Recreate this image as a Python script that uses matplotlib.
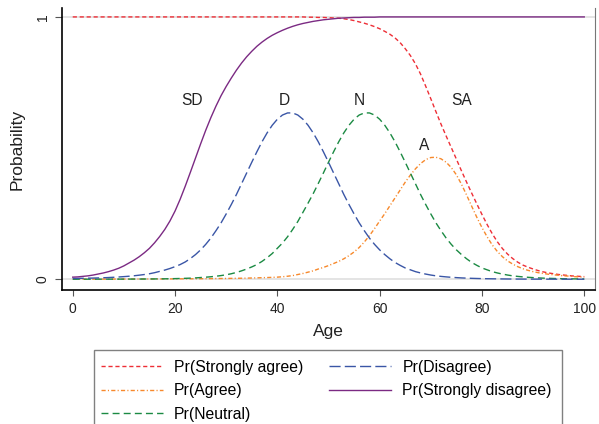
import numpy as np
import matplotlib
matplotlib.use('Agg')
import matplotlib.pyplot as plt
from matplotlib.patches import Rectangle

plt.rcParams['font.family'] = ['Liberation Sans', 'DejaVu Sans']

# Data: predicted probabilities for ages 0..100
ages = np.arange(0, 101)

pr_sd = [0.008, 0.009, 0.011, 0.013, 0.016, 0.02, 0.024, 0.029, 0.035, 0.042,
         0.051, 0.062, 0.073, 0.086, 0.101, 0.118, 0.139, 0.163, 0.19, 0.222,
         0.26, 0.305, 0.355, 0.408, 0.462, 0.516, 0.568, 0.616, 0.66, 0.70,
         0.735, 0.767, 0.797, 0.824, 0.848, 0.869, 0.888, 0.904, 0.918, 0.93,
         0.94, 0.949, 0.957, 0.964, 0.97, 0.975, 0.979, 0.983, 0.986, 0.989,
         0.991, 0.993, 0.995, 0.996, 0.997, 0.998, 0.998, 0.999, 0.999, 0.999] + [1.0] * 41

pr_d = [0.003, 0.0033, 0.0036, 0.004, 0.0045, 0.005, 0.0057, 0.0065, 0.0075, 0.0087,
        0.01, 0.0115, 0.0133, 0.0155, 0.018, 0.021, 0.025, 0.03, 0.035, 0.041,
        0.048, 0.056, 0.066, 0.079, 0.094, 0.112, 0.133, 0.157, 0.185, 0.215,
        0.249, 0.285, 0.323, 0.364, 0.405, 0.446, 0.486, 0.524, 0.558, 0.587,
        0.61, 0.626, 0.634, 0.634, 0.626, 0.61, 0.587, 0.558, 0.524, 0.486,
        0.446, 0.405, 0.364, 0.323, 0.285, 0.249, 0.215, 0.185, 0.157, 0.133,
        0.112, 0.094, 0.078, 0.064, 0.053, 0.043, 0.036, 0.029, 0.024, 0.0197,
        0.016, 0.013, 0.0108, 0.009, 0.0074, 0.0062, 0.0051, 0.0042, 0.0035, 0.0029,
        0.0024, 0.002, 0.0017, 0.0014, 0.0012, 0.001, 0.0008, 0.0007, 0.0006, 0.0005,
        0.0004, 0.0004, 0.0003, 0.0003, 0.0003, 0.0002, 0.0002, 0.0002, 0.0002, 0.0001, 0.0001]

pr_n = [0.0002, 0.0002, 0.0002, 0.0002, 0.0003, 0.0003, 0.0003, 0.0004, 0.0004, 0.0005,
        0.0005, 0.0006, 0.0007, 0.0008, 0.0009, 0.001, 0.0012, 0.0014, 0.0017, 0.002,
        0.0024, 0.0029, 0.0035, 0.0042, 0.0051, 0.0065, 0.0078, 0.0095, 0.0115, 0.014,
        0.017, 0.021, 0.026, 0.032, 0.039, 0.047, 0.056, 0.068, 0.082, 0.098,
        0.118, 0.138, 0.162, 0.19, 0.22, 0.255, 0.29, 0.326, 0.365, 0.405,
        0.446, 0.486, 0.524, 0.558, 0.587, 0.61, 0.626, 0.634, 0.634, 0.626,
        0.61, 0.587, 0.558, 0.524, 0.486, 0.446, 0.405, 0.364, 0.323, 0.285,
        0.249, 0.215, 0.185, 0.157, 0.133, 0.112, 0.094, 0.078, 0.064, 0.053,
        0.043, 0.036, 0.029, 0.024, 0.0197, 0.016, 0.013, 0.0108, 0.009, 0.0074,
        0.0062, 0.0051, 0.0042, 0.0035, 0.0029, 0.0024, 0.002, 0.0017, 0.0014, 0.0012, 0.001]

pr_a = [0.0003, 0.0003, 0.0003, 0.0004, 0.0004, 0.0005, 0.0005, 0.0006, 0.0006, 0.0007,
        0.0007, 0.0008, 0.0008, 0.0009, 0.001, 0.001, 0.0011, 0.0012, 0.0013, 0.0014,
        0.0015, 0.0016, 0.0017, 0.0018, 0.0019, 0.002, 0.0022, 0.0024, 0.0026, 0.0028,
        0.003, 0.0033, 0.0036, 0.0039, 0.0043, 0.0048, 0.0053, 0.0059, 0.0065, 0.0072,
        0.008, 0.0095, 0.0115, 0.014, 0.018, 0.022, 0.027, 0.032, 0.039, 0.045,
        0.052, 0.06, 0.068, 0.078, 0.09, 0.104, 0.121, 0.142, 0.166, 0.193,
        0.222, 0.25, 0.28, 0.31, 0.34, 0.37, 0.397, 0.421, 0.441, 0.456,
        0.464, 0.465, 0.459, 0.446, 0.426, 0.398, 0.362, 0.321, 0.278, 0.236,
        0.197, 0.162, 0.131, 0.106, 0.086, 0.07, 0.058, 0.048, 0.04, 0.034,
        0.029, 0.025, 0.022, 0.019, 0.017, 0.015, 0.013, 0.012, 0.01, 0.009, 0.008]

pr_sa = [1.0] * 46 + [
         0.999, 0.999, 0.998, 0.998,
         0.997, 0.996, 0.995, 0.993, 0.99, 0.986, 0.981, 0.976, 0.97, 0.963,
         0.955, 0.945, 0.934, 0.92, 0.902, 0.879, 0.853, 0.821, 0.782, 0.736,
         0.688, 0.639, 0.591, 0.546, 0.502, 0.458, 0.413, 0.37, 0.328, 0.287,
         0.247, 0.209, 0.174, 0.143, 0.117, 0.096, 0.079, 0.065, 0.054, 0.046,
         0.039, 0.033, 0.028, 0.024, 0.021, 0.018, 0.016, 0.014, 0.012, 0.011, 0.01]

curve_labels = ['SD', 'D', 'N', 'A', 'SA']
label_pos = [(23.3, 0.68), (41.3, 0.68), (56.1, 0.68), (68.7, 0.508), (76.1, 0.68)]

fig = plt.figure(figsize=(5.99, 4.24), dpi=100)
ax = fig.add_axes([62/599, 1 - 290/424, 533/599, 282/424])

ax.plot(ages, pr_sa, color='#ee2e36', lw=1.0, dashes=(3, 2), label='Pr(Strongly agree)')
ax.plot(ages, pr_a, color='#f7892c', lw=1.0, dashes=(3, 1.6, 0.8, 1.6), label='Pr(Agree)')
ax.plot(ages, pr_n, color='#1b8a43', lw=1.0, dashes=(5, 3), label='Pr(Neutral)')
ax.plot(ages, pr_d, color='#3a56a6', lw=1.0, dashes=(8, 3), label='Pr(Disagree)')
ax.plot(ages, pr_sd, color='#7b2a83', lw=1.0, label='Pr(Strongly disagree)')

for lab, (x, y) in zip(curve_labels, label_pos):
    ax.text(x, y, lab, fontsize=11.2, color='#222222', ha='center', va='center')

ax.set_xlim(-2.1, 102.1)
ax.set_ylim(-0.041, 1.034)
ax.set_xticks([0, 20, 40, 60, 80, 100])
ax.set_yticks([0, 1])
ax.set_yticklabels(['0', '1'], rotation=90, va='center')
ax.grid(axis='y', color='#e4e4e4', lw=1.4, zorder=0)
ax.set_axisbelow(True)

ax.spines['top'].set_visible(False)
ax.spines['right'].set_color('#777777')
ax.spines['left'].set_linewidth(1.2)
ax.spines['bottom'].set_linewidth(1.2)
ax.tick_params(axis='x', direction='out', length=4.3, width=0.8, color='#555555',
               labelsize=10, labelcolor='#222222', pad=4)
ax.tick_params(axis='y', direction='out', length=5, width=0.8, color='#555555',
               labelsize=10, labelcolor='#222222', pad=4)

ax.set_xlabel('Age', fontsize=12.5, color='#222222', labelpad=6)
ax.set_ylabel('Probability', fontsize=12.5, color='#222222', labelpad=8)

# legend box runs off the bottom edge, as in the original
fig.legend(loc='upper left', bbox_to_anchor=(94.3/599, 1 - 353.5/424), borderaxespad=0,
           ncol=2, fontsize=11.3, handlelength=3.95, handletextpad=0.7,
           labelspacing=0.54, columnspacing=1.7, frameon=False)
fig.patches.append(Rectangle((94.3/599, -0.05), (561.7 - 94.3)/599, 0.05 + 1 - 350/424,
                             transform=fig.transFigure, fill=False,
                             edgecolor='#808080', lw=1.0))

fig.savefig('out.png', dpi=100)
